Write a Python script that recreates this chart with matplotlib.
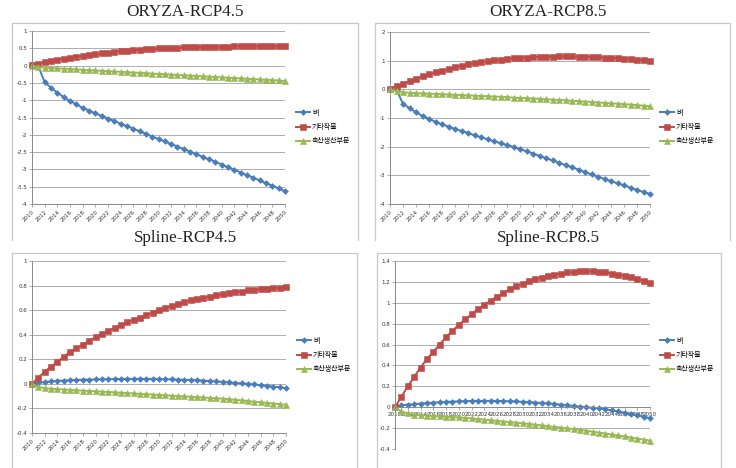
import matplotlib
matplotlib.use("Agg")
import matplotlib.pyplot as plt
from matplotlib.lines import Line2D

plt.rcParams["axes.unicode_minus"] = False

years = list(range(2010, 2051))
series_names = ["벼", "기타작물", "축산생산부문"]

# ORYZA-RCP4.5
oryza45_rice = [0.00, -0.02, -0.48, -0.64, -0.78, -0.91, -1.02, -1.12, -1.22, -1.30,
                -1.38, -1.45, -1.53, -1.60, -1.68, -1.75, -1.82, -1.90, -1.97, -2.05,
                -2.12, -2.19, -2.27, -2.34, -2.41, -2.49, -2.56, -2.64, -2.71, -2.78,
                -2.86, -2.94, -3.01, -3.09, -3.17, -3.24, -3.32, -3.40, -3.47, -3.55, -3.63]
oryza45_crops = [0.02, 0.06, 0.10, 0.13, 0.17, 0.20, 0.23, 0.26, 0.28, 0.31,
                 0.33, 0.35, 0.37, 0.39, 0.41, 0.43, 0.44, 0.46, 0.47, 0.48,
                 0.50, 0.51, 0.51, 0.52, 0.53, 0.53, 0.54, 0.54, 0.55, 0.55,
                 0.55, 0.55, 0.56, 0.56, 0.56, 0.56, 0.56, 0.56, 0.56, 0.56, 0.56]
oryza45_live = [0.00, -0.04, -0.06, -0.07, -0.08, -0.09, -0.10, -0.11, -0.12, -0.13,
                -0.14, -0.15, -0.16, -0.17, -0.18, -0.19, -0.20, -0.21, -0.22, -0.23,
                -0.24, -0.25, -0.26, -0.27, -0.28, -0.29, -0.30, -0.31, -0.32, -0.33,
                -0.34, -0.35, -0.36, -0.37, -0.38, -0.39, -0.40, -0.41, -0.42, -0.43, -0.45]

# ORYZA-RCP8.5
oryza85_rice = [0.00, -0.02, -0.50, -0.66, -0.80, -0.93, -1.03, -1.13, -1.22, -1.30,
                -1.38, -1.45, -1.53, -1.60, -1.67, -1.74, -1.81, -1.88, -1.94, -2.01,
                -2.08, -2.16, -2.24, -2.32, -2.40, -2.48, -2.56, -2.64, -2.72, -2.80,
                -2.89, -2.97, -3.05, -3.12, -3.20, -3.28, -3.35, -3.43, -3.51, -3.58, -3.65]
oryza85_crops = [0.02, 0.12, 0.20, 0.28, 0.37, 0.45, 0.52, 0.59, 0.65, 0.71,
                 0.77, 0.82, 0.87, 0.91, 0.95, 0.98, 1.01, 1.04, 1.06, 1.08,
                 1.10, 1.11, 1.12, 1.13, 1.14, 1.14, 1.15, 1.15, 1.15, 1.14,
                 1.14, 1.13, 1.12, 1.11, 1.10, 1.09, 1.07, 1.06, 1.04, 1.02, 0.99]
oryza85_live = [0.00, -0.06, -0.10, -0.12, -0.13, -0.14, -0.15, -0.16, -0.17, -0.18,
                -0.19, -0.20, -0.21, -0.22, -0.23, -0.24, -0.25, -0.26, -0.27, -0.29,
                -0.30, -0.31, -0.32, -0.33, -0.35, -0.36, -0.37, -0.38, -0.40, -0.41,
                -0.43, -0.44, -0.46, -0.47, -0.49, -0.50, -0.52, -0.53, -0.55, -0.57, -0.59]

# Spline-RCP4.5
spline45_rice = [0.000, 0.010, 0.015, 0.020, 0.025, 0.027, 0.030, 0.032, 0.034, 0.035,
                 0.036, 0.037, 0.038, 0.039, 0.040, 0.040, 0.041, 0.041, 0.040, 0.040,
                 0.039, 0.038, 0.037, 0.035, 0.033, 0.031, 0.029, 0.026, 0.023, 0.020,
                 0.016, 0.012, 0.008, 0.004, 0.000, -0.005, -0.010, -0.016, -0.022, -0.028, -0.035]
spline45_crops = [0.00, 0.05, 0.10, 0.14, 0.18, 0.22, 0.26, 0.29, 0.32, 0.35,
                  0.38, 0.405, 0.43, 0.455, 0.48, 0.50, 0.52, 0.54, 0.56, 0.58,
                  0.60, 0.62, 0.635, 0.65, 0.665, 0.68, 0.69, 0.70, 0.71, 0.72,
                  0.73, 0.74, 0.745, 0.75, 0.76, 0.765, 0.77, 0.775, 0.78, 0.78, 0.785]
spline45_live = [0.000, -0.025, -0.035, -0.040, -0.043, -0.046, -0.049, -0.052, -0.055, -0.058,
                 -0.060, -0.063, -0.066, -0.069, -0.072, -0.075, -0.078, -0.081, -0.084, -0.087,
                 -0.090, -0.093, -0.096, -0.099, -0.102, -0.105, -0.108, -0.111, -0.114, -0.117,
                 -0.120, -0.125, -0.130, -0.135, -0.140, -0.145, -0.150, -0.155, -0.160, -0.165, -0.170]

# Spline-RCP8.5
spline85_rice = [0.000, 0.018, 0.025, 0.030, 0.035, 0.040, 0.044, 0.048, 0.051, 0.054,
                 0.056, 0.058, 0.060, 0.061, 0.061, 0.061, 0.060, 0.059, 0.057, 0.055,
                 0.052, 0.049, 0.045, 0.041, 0.036, 0.031, 0.025, 0.019, 0.013, 0.006,
                 0.000, -0.005, -0.012, -0.020, -0.030, -0.040, -0.052, -0.064, -0.077, -0.090, -0.105]
spline85_crops = [0.00, 0.10, 0.20, 0.29, 0.38, 0.46, 0.53, 0.60, 0.67, 0.73,
                  0.79, 0.84, 0.89, 0.94, 0.98, 1.02, 1.06, 1.09, 1.13, 1.16,
                  1.18, 1.21, 1.23, 1.24, 1.26, 1.27, 1.28, 1.29, 1.29, 1.30,
                  1.30, 1.30, 1.29, 1.29, 1.28, 1.27, 1.26, 1.25, 1.23, 1.21, 1.19]
spline85_live = [0.000, -0.040, -0.060, -0.070, -0.075, -0.080, -0.085, -0.088, -0.091, -0.094,
                 -0.097, -0.102, -0.107, -0.113, -0.119, -0.125, -0.131, -0.137, -0.142, -0.148,
                 -0.153, -0.160, -0.167, -0.174, -0.181, -0.188, -0.195, -0.202, -0.209, -0.216,
                 -0.225, -0.234, -0.243, -0.252, -0.261, -0.270, -0.280, -0.290, -0.300, -0.310, -0.320]

W, H = 736, 468
fig = plt.figure(figsize=(W / 100, H / 100), dpi=100)

colors = ["#4A7EBB", "#BE4B48", "#98B954"]
markers = ["D", "s", "^"]
msizes = [3.0, 4.4, 4.6]

# panel: title, data, ylim, ystep, axes box (l, t, r, b), frame (l, t, r, b), title center, legend anchor, x-axis at zero
panels = [
    ("ORYZA-RCP4.5", (oryza45_rice, oryza45_crops, oryza45_live), (-4, 1), 0.5,
     (32, 31, 285, 204), (12, 23, 358, 240), (185, 12), (296, 127), False),
    ("ORYZA-RCP8.5", (oryza85_rice, oryza85_crops, oryza85_live), (-4, 2), 1,
     (390, 32, 650, 204), (375, 23, 730, 240), (548, 12), (660, 127), False),
    ("Spline-RCP4.5", (spline45_rice, spline45_crops, spline45_live), (-0.4, 1), 0.2,
     (32, 261, 286, 433), (12, 253, 357, 470), (185, 238), (297, 355), False),
    ("Spline-RCP8.5", (spline85_rice, spline85_crops, spline85_live), (-0.4, 1.4), 0.2,
     (395, 261, 650, 449), (377, 253, 721, 470), (548, 238), (660, 355), True),
]

for title, data, ylim, ystep, box, frame, tc, lg, zero_axis in panels:
    fl, ft, fr, fb = frame
    fig.add_artist(Line2D([fl / W, fl / W, fr / W, fr / W],
                          [1 - fb / H, 1 - ft / H, 1 - ft / H, 1 - fb / H],
                          transform=fig.transFigure, color="#c8c8c8", lw=0.9))
    fig.text(tc[0] / W, 1 - tc[1] / H, title, ha="center", va="center",
             fontsize=12.3, family="Liberation Serif", color="#222222")

    l, t, r, b = box
    ax = fig.add_axes([l / W, 1 - b / H, (r - l) / W, (b - t) / H])
    handles = []
    for vals, c, m, ms in zip(data, colors, markers, msizes):
        h, = ax.plot(years, vals, color=c, marker=m, markersize=ms, lw=1.4,
                     markeredgewidth=0.4, markeredgecolor=c, clip_on=False)
        handles.append(h)

    ax.set_xlim(2010, 2050)
    ax.set_ylim(*ylim)
    nt = int(round((ylim[1] - ylim[0]) / ystep))
    yt = [round(ylim[0] + i * ystep, 2) for i in range(nt + 1)]
    ax.set_yticks(yt)
    ax.set_yticklabels([f"{v:g}" for v in yt])
    ax.set_xticks(years[::2])
    ax.set_xticklabels([str(y) for y in years[::2]], rotation=45, ha="right",
                       rotation_mode="anchor")
    ax.grid(axis="y", color="#a0a0a0", lw=0.6)
    ax.set_axisbelow(True)
    for s in ["top", "right"]:
        ax.spines[s].set_visible(False)
    for s in ["left", "bottom"]:
        ax.spines[s].set_color("#8a8a8a")
        ax.spines[s].set_linewidth(0.7)
    if zero_axis:
        ax.spines["bottom"].set_position(("data", 0))
    ax.tick_params(axis="both", labelsize=4, colors="#8a8a8a", labelcolor="#333333",
                   length=2, width=0.5, pad=1.5)

    ax.legend(handles, series_names, loc="center left",
              bbox_to_anchor=(lg[0] / W, 1 - lg[1] / H), bbox_transform=fig.transFigure,
              frameon=False, borderpad=0, borderaxespad=0, handlelength=2.0,
              handletextpad=0.3, labelspacing=0.9,
              prop={"family": ["Noto Sans CJK KR", "DejaVu Sans"], "size": 5})

fig.savefig("out.png", dpi=100)
